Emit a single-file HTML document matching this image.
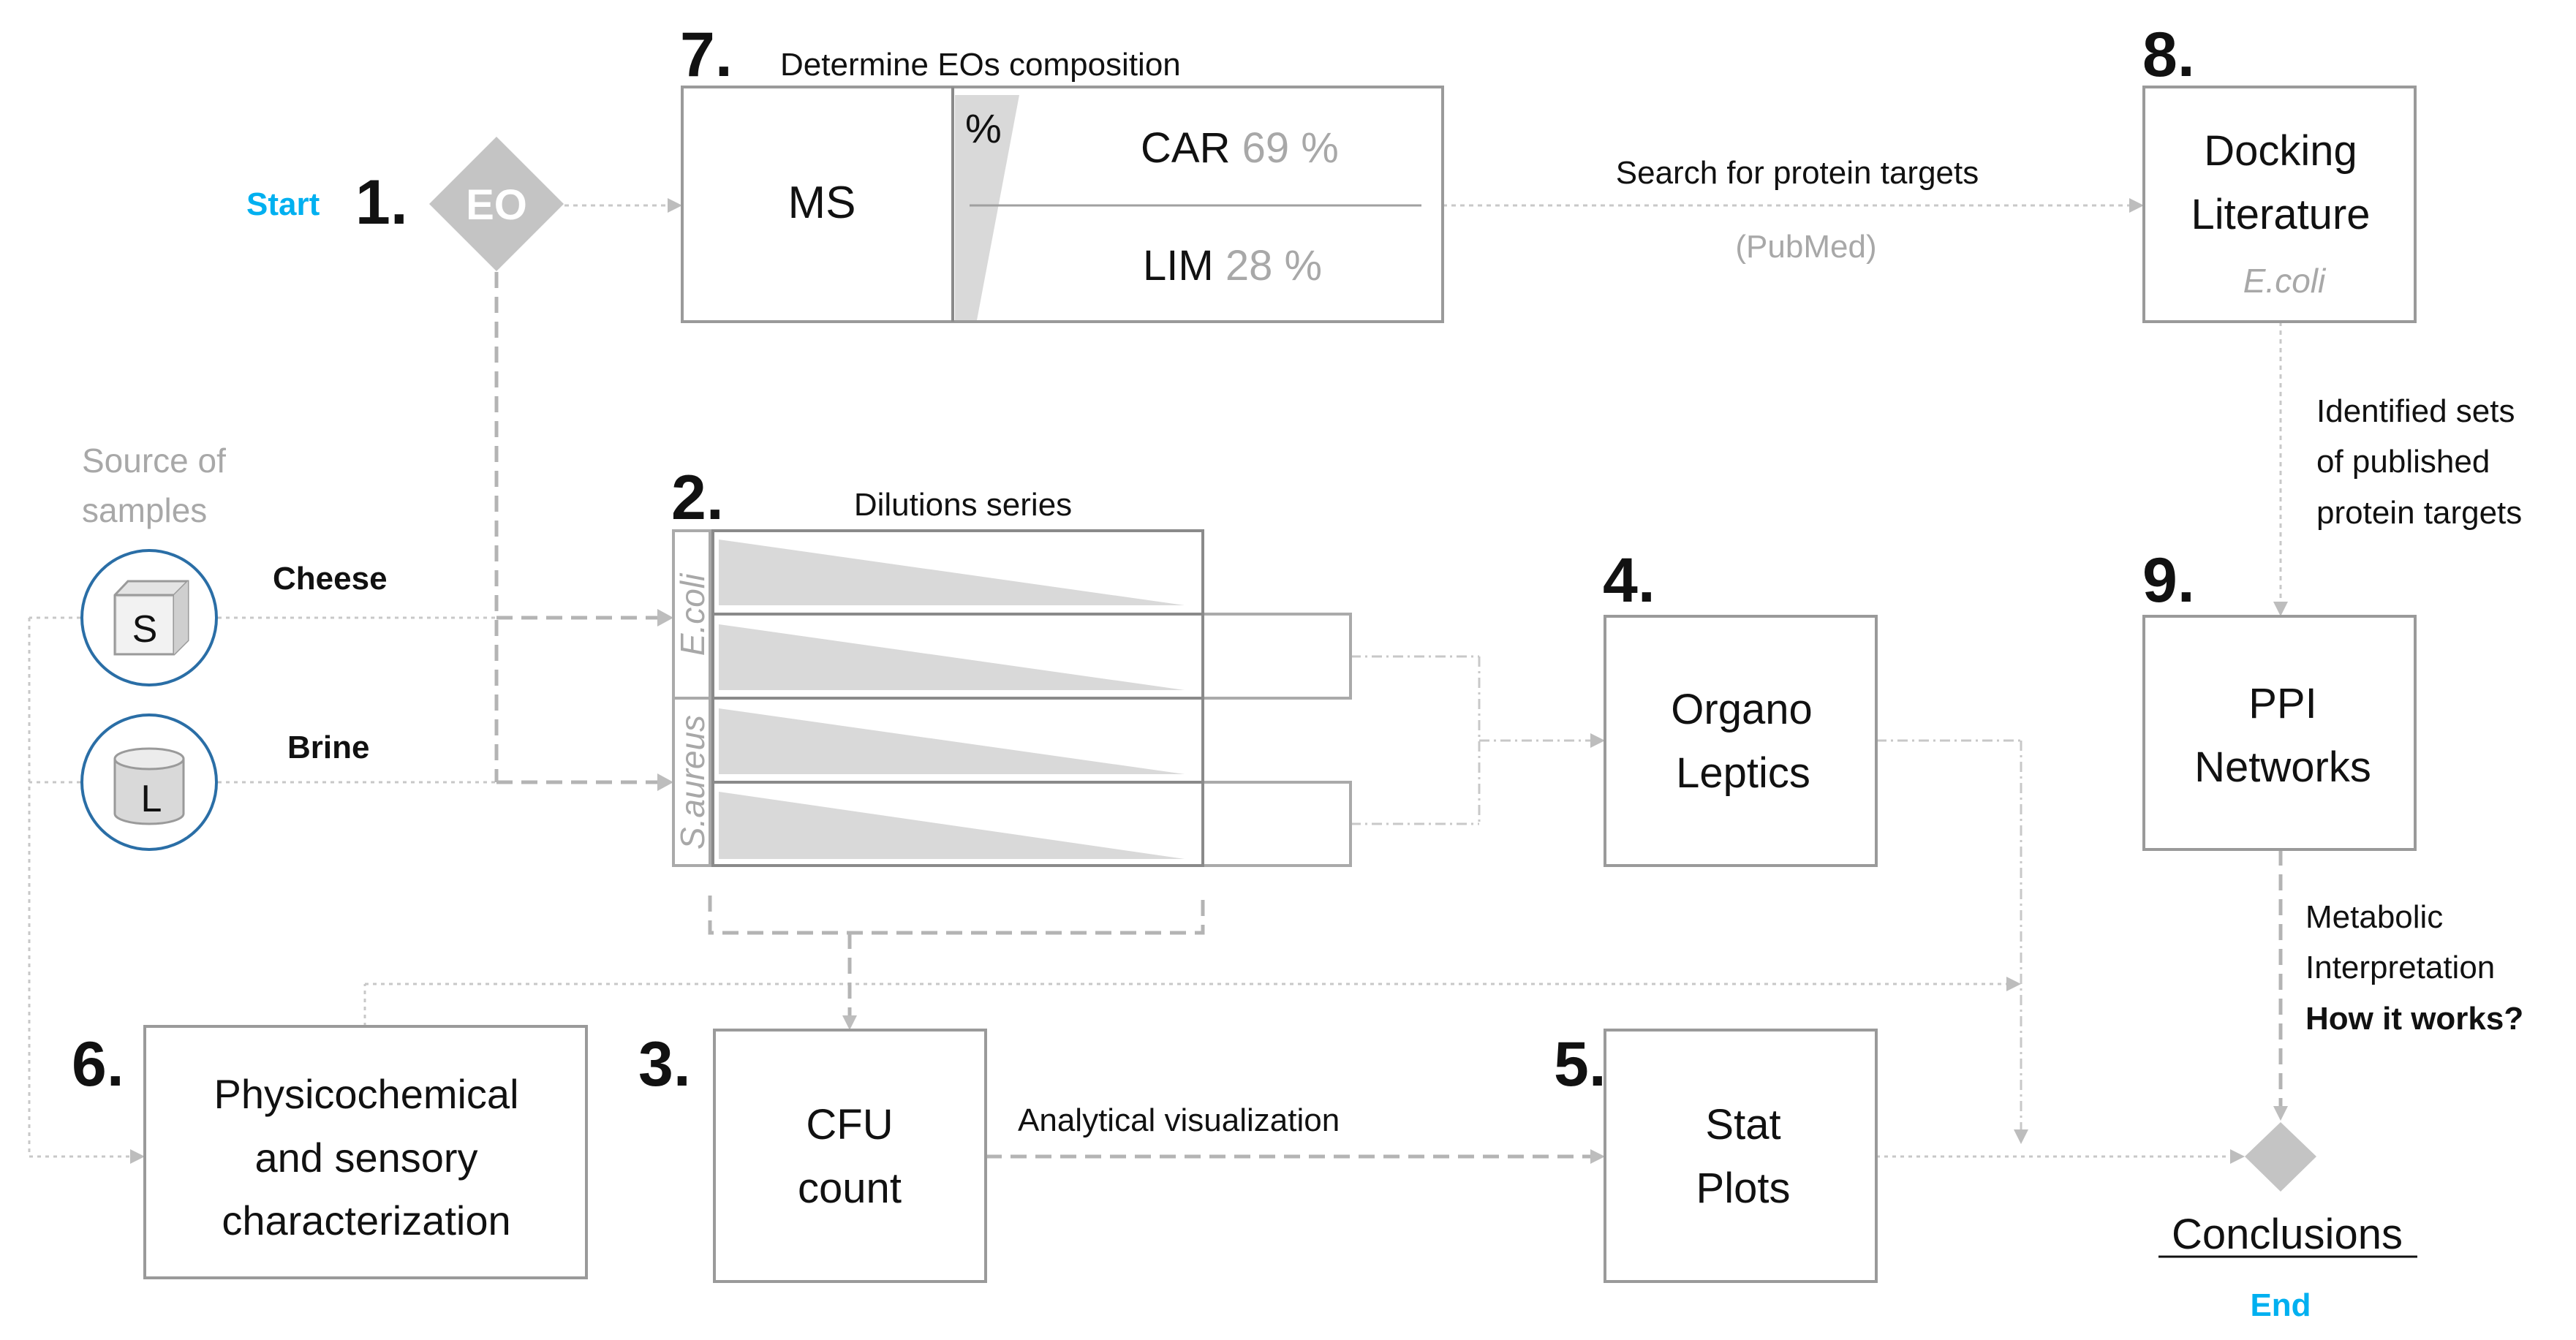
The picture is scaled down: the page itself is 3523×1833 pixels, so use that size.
<!DOCTYPE html>
<html><head><meta charset="utf-8"><style>
html,body{margin:0;padding:0;background:#fff;}
svg{display:block;}
text{font-family:"Liberation Sans",sans-serif;}
</style></head><body>
<svg width="3523" height="1833" viewBox="0 0 3523 1833" xmlns="http://www.w3.org/2000/svg">
<defs>
<marker id="ah" viewBox="0 0 10 10" refX="9" refY="5" markerWidth="7" markerHeight="7" orient="auto" markerUnits="userSpaceOnUse">
</marker>
</defs>
<g fill="none" stroke="#c8c8c8" stroke-width="3">
<!-- EO to box 7 -->
<line x1="772" y1="281" x2="915" y2="281" stroke-dasharray="6,6"/>
<!-- box7 to box8 -->
<line x1="1973" y1="281" x2="2915" y2="281" stroke-dasharray="6,6"/>
<!-- 8 to 9 -->
<line x1="3119" y1="440" x2="3119" y2="825" stroke-dasharray="6,6"/>
<!-- circles to box2 -->
<line x1="298" y1="845" x2="700" y2="845" stroke-dasharray="5,6"/>
<line x1="298" y1="1070" x2="700" y2="1070" stroke-dasharray="5,6"/>
<line x1="110" y1="845" x2="40" y2="845" stroke-dasharray="5,6"/>
<line x1="110" y1="1070" x2="40" y2="1070" stroke-dasharray="5,6"/>
<line x1="40" y1="845" x2="40" y2="1582" stroke-dasharray="5,6"/>
<line x1="40" y1="1582" x2="180" y2="1582" stroke-dasharray="5,6"/>
<!-- box 6 top to right -->
<line x1="499" y1="1404" x2="499" y2="1346" stroke-dasharray="5,6"/>
<line x1="499" y1="1346" x2="2745" y2="1346" stroke-dasharray="5,6"/>
<!-- box 5 to end -->
<line x1="2566" y1="1582" x2="3052" y2="1582" stroke-dasharray="5,6"/>
<!-- dash-dot ext to box4 -->
<g stroke-dasharray="14,6,3,6">
<line x1="1847" y1="898" x2="2023" y2="898"/>
<line x1="1847" y1="1127" x2="2023" y2="1127"/>
<line x1="2023" y1="898" x2="2023" y2="1127"/>
<line x1="2023" y1="1013" x2="2177" y2="1013"/>
<line x1="2566" y1="1013" x2="2764" y2="1013"/>
<line x1="2764" y1="1013" x2="2764" y2="1545"/>
</g>
</g>
<g fill="none" stroke="#b4b4b4" stroke-width="5" stroke-dasharray="22,12">
<line x1="679" y1="372" x2="679" y2="1070"/>
<line x1="679" y1="845" x2="903" y2="845"/>
<line x1="679" y1="1070" x2="903" y2="1070"/>
<polyline points="971,1225 971,1276 1645,1276 1645,1225"/>
<line x1="1162" y1="1276" x2="1162" y2="1390"/>
<line x1="1348" y1="1582" x2="2177" y2="1582"/>
<line x1="3119" y1="1162" x2="3119" y2="1530"/>
</g>
<!-- arrowheads -->
<g fill="#bdbdbd">
<polygon points="933,281 913,271 913,291"/>
<polygon points="2932,281 2912,271 2912,291"/>
<polygon points="3119,843 3109,823 3129,823"/>
<polygon points="921,845 899,833 899,857"/>
<polygon points="921,1070 899,1058 899,1082"/>
<polygon points="198,1582 178,1572 178,1592"/>
<polygon points="2764,1346 2744,1336 2744,1356"/>
<polygon points="2764,1565 2754,1545 2774,1545"/>
<polygon points="3070,1582 3050,1572 3050,1592"/>
<polygon points="2195,1013 2175,1003 2175,1023"/>
<polygon points="1162,1409 1152,1389 1172,1389"/>
<polygon points="2195,1582 2175,1572 2175,1592"/>
<polygon points="3119,1533 3109,1513 3129,1513"/>
</g>
<!-- diamonds -->
<polygon points="679,187 771,279 679,371 587,279" fill="#c4c4c4"/>
<text x="679" y="300" font-size="58" font-weight="bold" fill="#fff" text-anchor="middle">EO</text>
<polygon points="3119,1535 3168,1582 3119,1630 3070,1582" fill="#c4c4c4"/>
<!-- Box 7 -->
<rect x="933" y="119" width="1040" height="321" fill="#fff" stroke="#9a9a9a" stroke-width="4"/>
<line x1="1303" y1="119" x2="1303" y2="440" stroke="#8a8a8a" stroke-width="4"/>
<polygon points="1306,130 1394,130 1336,438 1306,438" fill="#d9d9d9"/>
<line x1="1326" y1="281" x2="1944" y2="281" stroke="#a0a0a0" stroke-width="3"/>
<text x="1124" y="298" font-size="62" text-anchor="middle" fill="#111">MS</text>
<text x="1320" y="195" font-size="56" fill="#111">%</text>
<text x="1560" y="222" font-size="58" fill="#111">CAR <tspan fill="#a8a8a8">69 %</tspan></text>
<text x="1563" y="383" font-size="58" fill="#111">LIM <tspan fill="#a8a8a8">28 %</tspan></text>
<!-- Box 8 -->
<rect x="2932" y="119" width="371" height="321" fill="#fff" stroke="#9a9a9a" stroke-width="4"/>
<text x="3119" y="226" font-size="58" text-anchor="middle" fill="#111">Docking</text>
<text x="3119" y="313" font-size="58" text-anchor="middle" fill="#111">Literature</text>
<text x="3124" y="400" font-size="46" font-style="italic" text-anchor="middle" fill="#a8a8a8">E.coli</text>
<!-- Box 9 -->
<rect x="2932" y="843" width="371" height="319" fill="#fff" stroke="#9a9a9a" stroke-width="4"/>
<text x="3122" y="982" font-size="58" text-anchor="middle" fill="#111">PPI</text>
<text x="3122" y="1069" font-size="58" text-anchor="middle" fill="#111">Networks</text>
<!-- Box 2 -->
<rect x="921" y="726" width="50" height="458" fill="#fff" stroke="#aaa" stroke-width="4"/>
<line x1="921" y1="955" x2="971" y2="955" stroke="#aaa" stroke-width="4"/>
<rect x="1645" y="840" width="202" height="115" fill="#fff" stroke="#aaa" stroke-width="4"/>
<rect x="1645" y="1070" width="202" height="114" fill="#fff" stroke="#aaa" stroke-width="4"/>
<g stroke="#8a8a8a" stroke-width="4" fill="#fff">
<rect x="975" y="726" width="670" height="114"/>
<rect x="975" y="840" width="670" height="115"/>
<rect x="975" y="955" width="670" height="115"/>
<rect x="975" y="1070" width="670" height="114"/>
</g>
<g fill="#d9d9d9">
<polygon points="983,738 983,828 1620,828"/>
<polygon points="983,854 983,944 1620,944"/>
<polygon points="983,969 983,1059 1620,1059"/>
<polygon points="983,1083 983,1175 1620,1175"/>
</g>
<text transform="translate(963,841) rotate(-90)" font-size="46" font-style="italic" fill="#a8a8a8" text-anchor="middle">E.coli</text>
<text transform="translate(963,1070) rotate(-90)" font-size="46" font-style="italic" fill="#a8a8a8" text-anchor="middle">S.aureus</text>
<!-- Box 4,5,3,6 -->
<rect x="2195" y="843" width="371" height="341" fill="#fff" stroke="#9a9a9a" stroke-width="4"/>
<text x="2382" y="990" font-size="58" text-anchor="middle" fill="#111">Organo</text>
<text x="2384" y="1077" font-size="58" text-anchor="middle" fill="#111">Leptics</text>
<rect x="2195" y="1409" width="371" height="344" fill="#fff" stroke="#9a9a9a" stroke-width="4"/>
<text x="2384" y="1558" font-size="58" text-anchor="middle" fill="#111">Stat</text>
<text x="2384" y="1645" font-size="58" text-anchor="middle" fill="#111">Plots</text>
<rect x="977" y="1409" width="371" height="344" fill="#fff" stroke="#9a9a9a" stroke-width="4"/>
<text x="1162" y="1558" font-size="58" text-anchor="middle" fill="#111">CFU</text>
<text x="1162" y="1645" font-size="58" text-anchor="middle" fill="#111">count</text>
<rect x="198" y="1404" width="604" height="344" fill="#fff" stroke="#9a9a9a" stroke-width="4"/>
<text x="501" y="1516" font-size="56" text-anchor="middle" fill="#111">Physicochemical</text>
<text x="501" y="1603" font-size="56" text-anchor="middle" fill="#111">and sensory</text>
<text x="501" y="1689" font-size="56" text-anchor="middle" fill="#111">characterization</text>
<!-- circles -->
<circle cx="204" cy="845" r="92" fill="#fff" stroke="#2a6ea6" stroke-width="4"/>
<circle cx="204" cy="1070" r="92" fill="#fff" stroke="#2a6ea6" stroke-width="4"/>
<polygon points="157,814 175,795 257,795 257,876 238,895 157,895" fill="#e4e4e4" stroke="#9a9a9a" stroke-width="3"/>
<polyline points="157,814 238,814 238,895 M238,814" fill="none" stroke="#9a9a9a" stroke-width="3"/>
<line x1="238" y1="814" x2="257" y2="795" stroke="#9a9a9a" stroke-width="3"/>
<rect x="160" y="817" width="76" height="76" fill="#f2f2f2"/>
<polygon points="238,814 257,795 257,876 238,895" fill="#cfcfcf"/>
<text x="198" y="878" font-size="52" text-anchor="middle" fill="#111">S</text>
<path d="M157,1038 L157,1113 A47,14 0 0 0 251,1113 L251,1038" fill="#d9d9d9" stroke="#9a9a9a" stroke-width="3"/>
<ellipse cx="204" cy="1038" rx="47" ry="14" fill="#ececec" stroke="#9a9a9a" stroke-width="3"/>
<text x="207" y="1110" font-size="52" text-anchor="middle" fill="#111">L</text>
<!-- labels -->
<text x="337" y="294" font-size="44" font-weight="bold" fill="#00b0f0">Start</text>
<text x="486" y="306" font-size="86" font-weight="bold" fill="#111">1.</text>
<text x="930" y="104" font-size="86" font-weight="bold" fill="#111">7.</text>
<text x="1067" y="103" font-size="44" fill="#111">Determine EOs composition</text>
<text x="2458" y="251" font-size="44" text-anchor="middle" fill="#111">Search for protein targets</text>
<text x="2470" y="352" font-size="44" text-anchor="middle" fill="#a8a8a8">(PubMed)</text>
<text x="2930" y="104" font-size="86" font-weight="bold" fill="#111">8.</text>
<text x="3168" y="577" font-size="44" fill="#111">Identified sets</text>
<text x="3168" y="646" font-size="44" fill="#111">of published</text>
<text x="3168" y="716" font-size="44" fill="#111">protein targets</text>
<text x="2930" y="823" font-size="86" font-weight="bold" fill="#111">9.</text>
<text x="3153" y="1269" font-size="44" fill="#111">Metabolic</text>
<text x="3153" y="1338" font-size="44" fill="#111">Interpretation</text>
<text x="3153" y="1408" font-size="44" font-weight="bold" fill="#111">How it works?</text>
<text x="3128" y="1708" font-size="58" text-anchor="middle" fill="#111">Conclusions</text>
<line x1="2952" y1="1719" x2="3306" y2="1719" stroke="#111" stroke-width="3"/>
<text x="3119" y="1800" font-size="44" font-weight="bold" text-anchor="middle" fill="#00b0f0">End</text>
<text x="112" y="646" font-size="46" fill="#a8a8a8">Source of</text>
<text x="112" y="714" font-size="46" fill="#a8a8a8">samples</text>
<text x="373" y="806" font-size="44" font-weight="bold" fill="#111">Cheese</text>
<text x="393" y="1037" font-size="44" font-weight="bold" fill="#111">Brine</text>
<text x="918" y="710" font-size="86" font-weight="bold" fill="#111">2.</text>
<text x="1317" y="705" font-size="44" text-anchor="middle" fill="#111">Dilutions series</text>
<text x="2192" y="823" font-size="86" font-weight="bold" fill="#111">4.</text>
<text x="98" y="1485" font-size="86" font-weight="bold" fill="#111">6.</text>
<text x="873" y="1485" font-size="86" font-weight="bold" fill="#111">3.</text>
<text x="2125" y="1485" font-size="86" font-weight="bold" fill="#111">5.</text>
<text x="1392" y="1547" font-size="44" fill="#111">Analytical visualization</text>
</svg>
</body></html>
